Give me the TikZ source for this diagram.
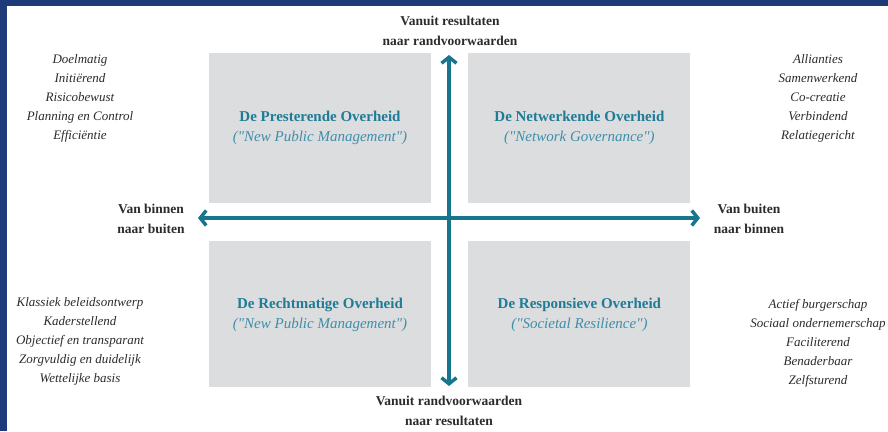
\documentclass[tikz,border=0pt]{standalone}
\usepackage{fontspec}
\setmainfont{Liberation Serif}
\usetikzlibrary{arrows.meta,positioning}

\definecolor{frameblue}{HTML}{1F3A78}
\definecolor{quadgray}{HTML}{DCDDDF}
\definecolor{axisteal}{HTML}{17768D}
\definecolor{titleteal}{HTML}{1E7C96}
\definecolor{subteal}{HTML}{3E8FAB}
\definecolor{inktext}{HTML}{2B2B2B}

\newcommand{\sq}{\textquotedbl}

\begin{document}
\begin{tikzpicture}[
	x=1pt, y=1pt,
	quad/.style={rectangle, fill=quadgray, minimum width=222pt, minimum height=150pt, inner sep=0pt, align=center, text=titleteal, font=\fontsize{15}{20}\selectfont},
	axis/.style={{Straight Barb[length=6pt,width=15pt]}-{Straight Barb[length=6pt,width=15pt]}, line width=3.5pt, draw=axisteal},
	lbl/.style={align=center, text=inktext, font=\fontsize{13.5}{20}\selectfont\bfseries},
	trait/.style={align=center, text=inktext, font=\fontsize{13}{19}\selectfont\itshape}
]
\useasboundingbox (0,0) rectangle (888,431);

% --- Frame ---
\fill[frameblue] (0,425) rectangle (888,431);
\fill[frameblue] (0,0) rectangle (7,431);

% --- Quadrants ---
\node[quad] (pres) at (320,303) {\textbf{De Presterende Overheid}\\{\color{subteal}\itshape (\sq New Public Management\sq)}};
\node[quad, right=37pt of pres] (netw) {\textbf{De Netwerkende Overheid}\\{\color{subteal}\itshape (\sq Network Governance\sq)}};
\node[quad, minimum height=146pt, below=38pt of pres] (recht) {\textbf{De Rechtmatige Overheid}\\{\color{subteal}\itshape (\sq New Public Management\sq)}};
\node[quad, minimum height=146pt, right=37pt of recht] (resp) {\textbf{De Responsieve Overheid}\\{\color{subteal}\itshape (\sq Societal Resilience\sq)}};

% --- Axes ---
\coordinate (ntop) at (449,376);
\coordinate (nbot) at (449,45);
\coordinate (nleft) at (198,213);
\coordinate (nright) at (700,213);
\draw[axis] (nbot) -- (ntop);
\draw[axis] (nleft) -- (nright);

\node[lbl] (up) at (450,400) {Vanuit resultaten\\naar randvoorwaarden};
\node[lbl] (down) at (449,20) {Vanuit randvoorwaarden\\naar resultaten};
\node[lbl] (inout) at (151,212) {Van binnen\\naar buiten};
\node[lbl] (outin) at (749,212) {Van buiten\\naar binnen};

% --- Traits ---
\node[trait] (tpres) at (80,333) {Doelmatig\\Initiërend\\Risicobewust\\Planning en Control\\Efficiëntie};
\node[trait] (tnetw) at (818,333) {Allianties\\Samenwerkend\\Co-creatie\\Verbindend\\Relatiegericht};
\node[trait] (trecht) at (80,90) {Klassiek beleidsontwerp\\Kaderstellend\\Objectief en transparant\\Zorgvuldig en duidelijk\\Wettelijke basis};
\node[trait] (tresp) at (818,88) {Actief burgerschap\\Sociaal ondernemerschap\\Faciliterend\\Benaderbaar\\Zelfsturend};

\end{tikzpicture}
\end{document}
